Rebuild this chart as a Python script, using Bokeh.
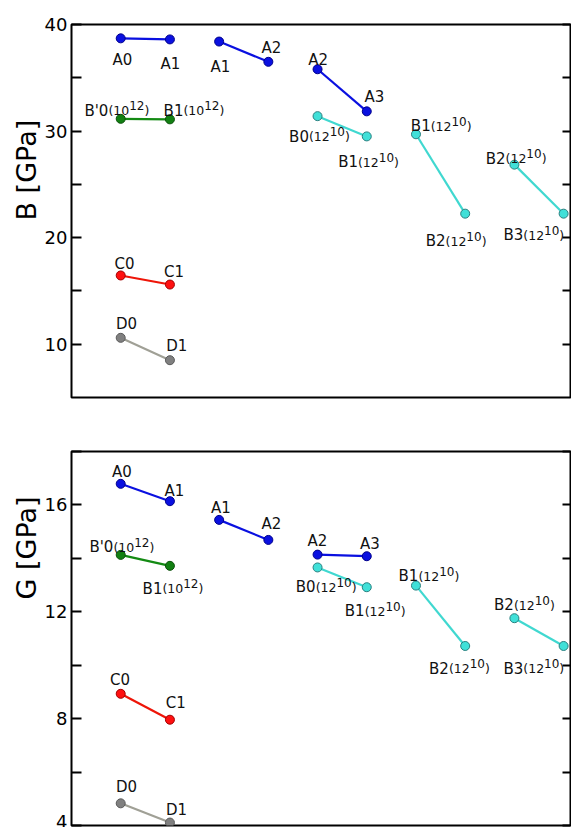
from bokeh.plotting import figure
from bokeh.models import ColumnDataSource, Range1d, LinearAxis, FixedTicker, Title
from bokeh.layouts import column
from bokeh.embed import file_html
from bokeh.resources import INLINE
from bokeh.core.properties import value

# ---------------- data ----------------
seg_x = [[1, 2], [3, 4], [5, 6], [1, 2], [5, 6], [7, 8], [9, 10], [1, 2], [1, 2]]
series_kind = ["A", "A", "A", "Bp", "B", "B", "B", "C", "D"]
B_values = [[38.7, 38.6], [38.4, 36.5], [35.8, 31.85], [31.15, 31.1], [31.4, 29.5],
            [29.7, 22.25], [26.85, 22.25], [16.45, 15.6], [10.6, 8.5]]
G_values = [[16.79, 16.14], [15.44, 14.69], [14.14, 14.08], [14.13, 13.72], [13.66, 12.92],
            [12.98, 10.72], [11.76, 10.72], [8.93, 7.96], [4.83, 4.11]]
point_names = [["A0", "A1"], ["A1", "A2"], ["A2", "A3"], ["B'0", "B1"], ["B0", "B1"],
               ["B1", "B2"], ["B2", "B3"], ["C0", "C1"], ["D0", "D1"]]
name_base = [None, None, None, "10", "12", "12", "12", None, None]
name_exp = [None, None, None, "12", "10", "10", "10", None, None]

B_ticks = [10, 15, 20, 25, 30, 35, 40]
B_tick_labels = {10: "10", 20: "20", 30: "30", 40: "40"}
G_ticks = [4, 6, 8, 10, 12, 14, 16, 18]
G_tick_labels = {4: "4", 8: "8", 12: "12", 16: "16"}

# ---------------- styles ----------------
FONT = "DejaVu Sans"
COLORS = {  # line, fill, edge
    "A": ("#0a10e0", "#0a10e0", "#00008b"),
    "Bp": ("#138a13", "#128012", "#0a500a"),
    "B": ("#40d8d0", "#40e0d8", "#2a8080"),
    "C": ("#ee1508", "#ff1010", "#a00000"),
    "D": ("#a0a096", "#808080", "#5a5a5a"),
}
# label offsets (px): plain labels -> centre x / baseline; suffixed -> join x / baseline
B_offsets = [[(1.8, 22.1), (0.5, 24.5)], [(1.2, 25.2), (3.1, -13.8)], [(0.6, -9.2), (7.6, -14.8)],
             [(-12.3, -8.3), (13.5, -8.7)], [(-8.6, 20.7), (-8.8, 26.0)], [(14.7, -8.0), (-19.6, 27.4)],
             [(-8.8, -6.0), (-40.3, 21.7)], [(3.7, -11.5), (4.1, -12.1)], [(5.8, -13.9), (6.8, -14.5)]]
G_offsets = [[(1.3, -12.1), (4.5, -10.2)], [(1.8, -12.1), (3.1, -16.1)], [(-0.2, -13.5), (3.2, -11.9)],
             [(-7.3, -7.6), (-7.5, 23.0)], [(-1.9, 19.7), (-2.1, 24.0)], [(2.4, -9.3), (-16.3, 23.0)],
             [(-0.5, -12.7), (-40.3, 23.0)], [(-0.8, -13.8), (5.8, -16.8)], [(5.8, -16.2), (6.6, -12.9)]]

BASE_FS, SUF_FS, SUP_FS = 15, 12.5, 12
W_PAREN = 1.662 * SUF_FS
W_SUP = 1.272 * SUP_FS
SUP_RAISE = 5
FRAME_W = 499
X_END = 10.14


def style_axis(ax, ticks, labels, show, tick_len):
    ax.ticker = FixedTicker(ticks=ticks, minor_ticks=[])
    ax.axis_line_color = None
    ax.major_tick_in = tick_len
    ax.major_tick_out = 0
    ax.major_tick_line_width = 2
    ax.major_tick_line_color = "black"
    ax.minor_tick_line_color = None
    ax.major_label_overrides = {t: (labels.get(t, "") if show else "") for t in ticks}
    ax.major_label_text_font = FONT
    ax.major_label_text_color = "black"
    if show:
        ax.major_label_text_font_size = "18px"
        ax.major_label_standoff = 4
    else:
        ax.major_label_text_font_size = "0px"
        ax.major_label_standoff = 0


def build(vals, offsets, ticks, tick_labels, y0, y1, frame_h, b_top, b_bottom, ylab, ylab_off):
    p = figure(frame_width=FRAME_W, frame_height=frame_h, x_range=Range1d(0, X_END),
               y_range=Range1d(y0, y1), x_axis_location=None, y_axis_location="left",
               output_backend="svg", toolbar_location=None,
               min_border_left=71, min_border_right=1, min_border_top=b_top, min_border_bottom=b_bottom)
    p.grid.visible = False
    p.outline_line_color = "black"
    p.outline_line_width = 2
    p.background_fill_color = "white"
    p.border_fill_color = "white"
    style_axis(p.yaxis[0], ticks, tick_labels, True, 10)
    rax = LinearAxis()
    style_axis(rax, ticks, tick_labels, False, 8)
    p.add_layout(rax, "right")

    plain = dict(x=[], y=[], t=[], xo=[], yo=[])
    based = dict(x=[], y=[], t=[], xo=[], yo=[])
    paren = dict(x=[], y=[], t=[], xo=[], yo=[])
    sup = dict(x=[], y=[], t=[], xo=[], yo=[])
    close = dict(x=[], y=[], t=[], xo=[], yo=[])

    def push(d, *vals_):
        for k, v in zip(("x", "y", "t", "xo", "yo"), vals_):
            d[k].append(v)

    for i, xs in enumerate(seg_x):
        line_c, fill_c, edge_c = COLORS[series_kind[i]]
        src = ColumnDataSource(dict(x=xs, y=vals[i]))
        p.line("x", "y", source=src, line_color=line_c, line_width=2.2)
        p.scatter("x", "y", source=src, size=9, fill_color=fill_c, line_color=edge_c, line_width=1)
        for j in range(2):
            dx, dy = offsets[i][j]
            xv, yv, nm = xs[j], vals[i][j], point_names[i][j]
            if name_base[i] is None:
                push(plain, xv, yv, nm, dx, dy)
            else:
                push(based, xv, yv, nm, dx, dy)
                push(paren, xv, yv, "(" + name_base[i], dx, dy)
                push(sup, xv, yv, name_exp[i], dx + W_PAREN, dy - SUP_RAISE)
                push(close, xv, yv, ")", dx + W_PAREN + W_SUP, dy)

    for d, align, fs in ((plain, "center", BASE_FS), (based, "right", BASE_FS),
                         (paren, "left", SUF_FS), (sup, "left", SUP_FS), (close, "left", SUF_FS)):
        p.text("x", "y", text="t", x_offset="xo", y_offset="yo", source=ColumnDataSource(d),
               text_align=align, text_baseline="alphabetic", text_font=value(FONT),
               text_font_size=f"{fs}px", text_color="#111111")

    p.add_layout(Title(text=ylab, align="left", offset=ylab_off, standoff=0,
                       text_font=FONT, text_font_size="27px", text_font_style="normal",
                       text_color="black"), "left")
    return p


top = build(B_values, B_offsets, B_ticks, B_tick_labels, 5, 40, 373, 24, 27, "B [GPa]", 177)
bottom = build(G_values, G_offsets, G_ticks, G_tick_labels, 4, 18, 374, 27, 2, "G [GPa]", 226)

layout = column(top, bottom, spacing=0)
open("out.html", "w").write(file_html(layout, INLINE))
